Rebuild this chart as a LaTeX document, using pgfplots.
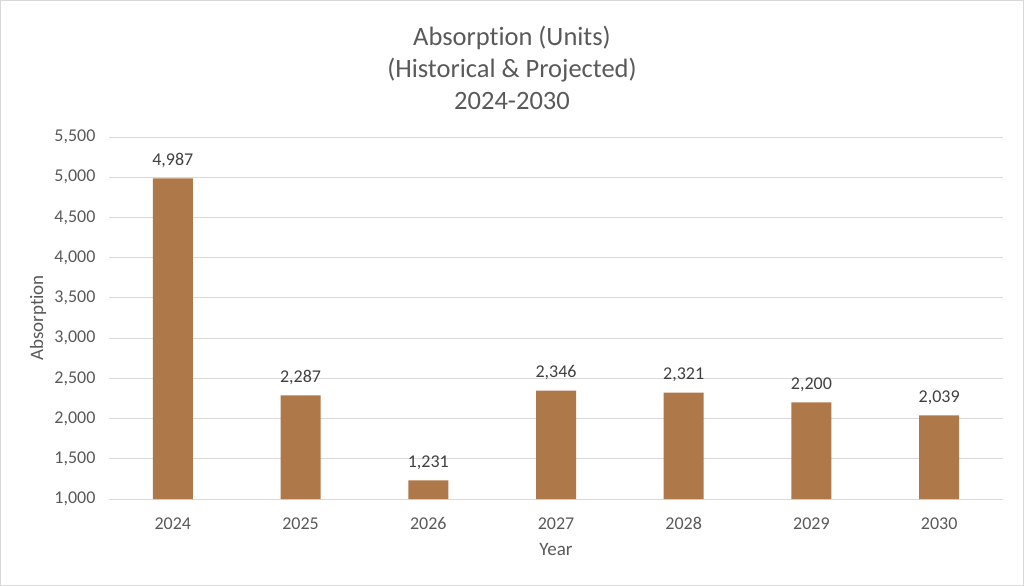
\documentclass[border=0pt]{standalone}
\usepackage{pgfplots}
\pgfplotsset{compat=1.18}
\usepackage{fontspec}
\setmainfont{Carlito}[Ligatures={NoCommon}]
\definecolor{barc}{HTML}{AE7848}
\definecolor{gridc}{HTML}{D9D9D9}
\definecolor{txt}{HTML}{595959}
\definecolor{lab}{HTML}{404040}
\begin{document}
\begin{tikzpicture}
\draw[gridc, line width=1bp] (0.5bp,0.5bp) rectangle (1023.5bp,585.5bp);
\begin{axis}[
  at={(109bp,87bp)}, anchor=south west,
  scale only axis, width=894bp, height=362bp,
  xmin=-0.5, xmax=6.5, ymin=1000, ymax=5500,
  ytick={1000,1500,...,5500},
  xtick=data, xticklabels={2024,2025,2026,2027,2028,2029,2030},
  ymajorgrids, grid style={gridc, line width=0.8bp},
  axis line style={draw=none},
  major tick length=0pt,
  tick label style={font=\fontsize{18bp}{21bp}\selectfont, text=txt},
  /pgf/number format/assume math mode=true,
  /pgf/number format/1000 sep={,},
  yticklabel style={xshift=-10bp},
  xticklabel style={anchor=base, yshift=-30bp},
  ybar, bar width=40bp,
  nodes near coords,
  every node near coord/.append style={font=\fontsize{18bp}{21bp}\selectfont, text=lab, yshift=7bp, /pgf/number format/1000 sep={,}},
  clip=false,
]
\addplot[fill=barc, draw=none] coordinates {(0,4987) (1,2287) (2,1231) (3,2346) (4,2321) (5,2200) (6,2039)};
\end{axis}
\node[text=txt, font=\fontsize{26.5bp}{32bp}\selectfont, align=center] at (512bp,518bp) {Absorption (Units)\\(Historical \& Projected)\\2024-2030};
\node[text=txt, font=\fontsize{19bp}{22bp}\selectfont] at (556bp,37bp) {Year};
\node[text=txt, font=\fontsize{19bp}{22bp}\selectfont, rotate=90] at (38bp,268bp) {Absorption};
\end{tikzpicture}
\end{document}
